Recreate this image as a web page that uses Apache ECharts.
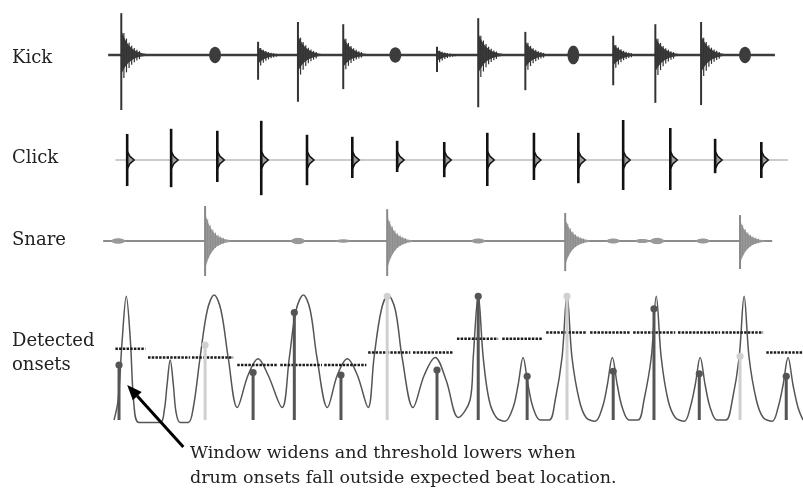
<!DOCTYPE html>
<html lang="en">
<head>
<meta charset="UTF-8">
<title>Drum onsets</title>
<script src="https://cdn.jsdelivr.net/npm/echarts@6/dist/echarts.min.js"></script>
<style>
  html, body { margin: 0; padding: 0; background: #fff; }
  #chart { width: 803px; height: 496px; }
</style>
</head>
<body>
<div id="chart"></div>
<script>
// time is in beats (the click track ticks once per beat)
// hits: [beat, amplitude up, amplitude down, kind] kind 0 = struck, 1 = soft/bleed
var kickHits = [
  [-0.13, 0.76, 1.00, 0], [1.94, 0.15, 0.15, 1], [2.89, 0.24, 0.45, 0],
  [3.77, 0.60, 0.85, 0], [4.77, 0.56, 0.62, 0], [5.92, 0.14, 0.14, 1],
  [6.84, 0.15, 0.31, 0], [7.75, 0.67, 0.95, 0], [8.79, 0.42, 0.64, 0],
  [9.85, 0.17, 0.17, 1], [10.73, 0.35, 0.55, 0], [11.66, 0.56, 0.87, 0],
  [12.67, 0.60, 0.91, 0], [13.64, 0.15, 0.15, 1]
];
var clickHits = [
  [0.00, 0.65, 0.65], [0.97, 0.78, 0.68], [1.99, 0.73, 0.55], [2.96, 0.98, 0.88],
  [3.97, 0.63, 0.63], [4.97, 0.58, 0.45], [5.96, 0.48, 0.30], [7.00, 0.45, 0.43],
  [7.95, 0.68, 0.65], [8.98, 0.68, 0.50], [9.96, 0.68, 0.58], [10.95, 1.00, 0.75],
  [11.99, 0.80, 0.75], [12.98, 0.53, 0.33], [14.00, 0.45, 0.45]
];
var snareHits = [
  [-0.20, 0.08, 0.08, 1], [1.72, 1.00, 1.00, 0], [3.77, 0.09, 0.09, 1],
  [4.77, 0.05, 0.05, 1], [5.74, 0.91, 1.00, 0], [7.75, 0.07, 0.07, 1],
  [9.67, 0.80, 0.86, 0], [10.73, 0.07, 0.07, 1], [11.37, 0.06, 0.06, 1],
  [11.70, 0.09, 0.09, 1], [12.71, 0.07, 0.07, 1], [13.53, 0.74, 0.80, 0]
];
var kickSpan = [-0.42, 14.30];
var clickSpan = [-0.26, 14.59];
var snareSpan = [-0.53, 14.24];

// onset detection function
var onsetCurve = [
  [-0.29, 0], [-0.20, 0.16], [-0.11, 0.64], [-0.02, 0.99], [0.07, 0.64], [0.15, 0.12], [0.26, -0.02],
  [0.73, -0.02], [0.82, 0.08], [0.88, 0.28], [0.95, 0.48], [1.02, 0.28], [1.08, 0.06], [1.17, -0.02],
  [1.35, -0.02], [1.46, 0.10], [1.61, 0.50], [1.77, 0.88], [1.92, 1.00], [2.07, 0.88], [2.23, 0.50], [2.43, 0.10],
  [2.67, 0.36], [2.89, 0.49], [3.11, 0.36], [3.42, 0.10],
  [3.58, 0.50], [3.73, 0.88], [3.89, 1.00], [4.04, 0.88], [4.19, 0.50], [4.42, 0.10],
  [4.64, 0.36], [4.86, 0.49], [5.08, 0.36], [5.32, 0.10],
  [5.45, 0.50], [5.61, 0.88], [5.76, 1.00], [5.92, 0.88], [6.07, 0.50], [6.31, 0.10],
  [6.56, 0.36], [6.80, 0.50], [7.04, 0.32], [7.31, 0.02],
  [7.57, 0.16], [7.64, 0.50], [7.75, 1.00], [7.86, 0.50], [7.99, 0.16], [8.15, 0.02], [8.34, -0.01],
  [8.52, 0.10], [8.63, 0.28], [8.74, 0.50], [8.85, 0.28], [8.96, 0.10], [9.12, 0], [9.32, 0],
  [9.45, 0.16], [9.60, 0.50], [9.71, 1.00], [9.82, 0.50], [9.98, 0.16], [10.13, 0.02], [10.33, -0.01],
  [10.49, 0.10], [10.60, 0.28], [10.71, 0.50], [10.82, 0.28], [10.93, 0.10], [11.08, 0], [11.28, 0],
  [11.41, 0.16], [11.57, 0.50], [11.68, 0.99], [11.79, 0.50], [11.94, 0.16], [12.10, 0.02], [12.30, -0.01],
  [12.43, 0.10], [12.54, 0.28], [12.65, 0.50], [12.76, 0.28], [12.87, 0.10], [13.02, 0], [13.22, 0],
  [13.36, 0.16], [13.51, 0.50], [13.62, 0.99], [13.73, 0.50], [13.89, 0.16], [14.04, 0.02], [14.24, -0.01],
  [14.37, 0.10], [14.48, 0.28], [14.59, 0.50], [14.70, 0.28], [14.81, 0.10], [14.92, 0]
];
// adaptive threshold per window: [from, to, level]
var thresholds = [
  [-0.26, 0.40, 0.57], [0.46, 1.39, 0.50], [1.43, 2.34, 0.50],
  [2.43, 3.33, 0.44], [3.38, 4.30, 0.44], [4.35, 5.28, 0.44],
  [5.32, 6.25, 0.54], [6.31, 7.20, 0.54], [7.28, 8.19, 0.65], [8.28, 9.18, 0.65],
  [9.25, 10.15, 0.70], [10.22, 11.10, 0.70], [11.17, 12.10, 0.70], [12.16, 13.09, 0.70],
  [13.13, 14.04, 0.70], [14.11, 14.92, 0.54]
];
// detected onsets: [beat, level]
var kickOnsets = [
  [-0.18, 0.44], [2.78, 0.38], [3.69, 0.86], [4.72, 0.36], [6.84, 0.40], [7.75, 0.99],
  [8.83, 0.35], [10.73, 0.39], [11.63, 0.89], [12.63, 0.37], [14.55, 0.35]
];
var snareOnsets = [[1.72, 0.60], [5.74, 0.99], [9.71, 0.99], [13.53, 0.51]];
var arrowLine = [[1.24, -0.216, 0.0, 0.28]];

var rowLabels = [
  ['Kick', 58], ['Click', 158], ['Snare', 240], ['Detected', 341], ['onsets', 365]
];
var noteLines = ['Window widens and threshold lowers when',
                 'drum onsets fall outside expected beat location.'];

var serif = '"DejaVu Serif", "Liberation Serif", serif';

function drumRenderer(st) {
  return function (params, api) {
    var t = api.value(0), up = api.value(1), dn = api.value(2), kind = api.value(3);
    var p = api.coord([t, 0]);
    var sz = api.size([1, 1]);
    var bx = sz[0], ay = sz[1];
    var kids = [], i, a;
    if (kind === 1) {
      var w = st.blob * bx, pts = [];
      for (i = 0; i <= 16; i++) {
        a = Math.PI * i / 16;
        pts.push([p[0] - w * Math.cos(a), p[1] - up * ay * Math.sin(a)]);
      }
      for (i = 0; i <= 16; i++) {
        a = Math.PI * i / 16;
        pts.push([p[0] + w * Math.cos(a), p[1] + dn * ay * Math.sin(a)]);
      }
      kids.push({ type: 'polygon', shape: { points: pts }, style: { fill: st.fill } });
      return { type: 'group', children: kids };
    }
    var L = st.decay * bx, top = [], bot = [];
    for (i = 0; i <= 16; i++) {
      var f = i / 16, k = Math.exp(-3.4 * f);
      top.push([p[0] + f * L, p[1] - up * ay * st.envUp * k]);
      bot.push([p[0] + f * L, p[1] + dn * ay * st.envDn * k]);
    }
    kids.push({ type: 'polygon', shape: { points: top.concat(bot.reverse()) }, style: { fill: st.fill } });
    for (i = 1; i <= 7; i++) {
      var x = p[0] + i * 2.6;
      var r = Math.exp(-3.0 * i * 2.6 / L) * st.ridge;
      kids.push({ type: 'line', shape: { x1: x, y1: p[1] - up * ay * r, x2: x, y2: p[1] + dn * ay * r * 0.8 },
        style: { stroke: st.stroke, lineWidth: st.ridgeW } });
    }
    kids.push({ type: 'line', shape: { x1: p[0], y1: p[1] - up * ay, x2: p[0], y2: p[1] + dn * ay },
      style: { stroke: st.stroke, lineWidth: 2 } });
    return { type: 'group', children: kids };
  };
}

function renderClick(params, api) {
  var p = api.coord([api.value(0), 0]);
  var ay = api.size([1, 1])[1];
  var up = api.value(1), dn = api.value(2);
  var h = 9;
  return { type: 'group', children: [
    { type: 'polygon', shape: { points: [[p[0], p[1] - h], [p[0] + 2.5, p[1] - h * 0.45], [p[0] + 7, p[1]],
      [p[0] + 2.5, p[1] + h * 0.45], [p[0], p[1] + h]] }, style: { fill: '#9a9a9a', stroke: '#111', lineWidth: 1.5 } },
    { type: 'line', shape: { x1: p[0], y1: p[1] - up * ay, x2: p[0], y2: p[1] + dn * ay },
      style: { stroke: '#111', lineWidth: 2.6 } }
  ] };
}

function renderThreshold(params, api) {
  var a = api.coord([api.value(0), api.value(2)]);
  var b = api.coord([api.value(1), api.value(2)]);
  return { type: 'line', shape: { x1: a[0], y1: a[1], x2: b[0], y2: b[1] },
    style: { stroke: '#1c1c1c', lineWidth: 2.4, lineDash: [2.5, 1.2] } };
}

function stemRenderer(color) {
  return function (params, api) {
    var b = api.coord([api.value(0), 0]);
    var tp = api.coord([api.value(0), api.value(1)]);
    return { type: 'group', children: [
      { type: 'line', shape: { x1: b[0], y1: b[1], x2: tp[0], y2: tp[1] }, style: { stroke: color, lineWidth: 3 } },
      { type: 'circle', shape: { cx: tp[0], cy: tp[1], r: 3.6 }, style: { fill: color } }
    ] };
  };
}

function renderArrow(params, api) {
  var a = api.coord([api.value(0), api.value(1)]);
  var b = api.coord([api.value(2), api.value(3)]);
  var ang = Math.atan2(b[1] - a[1], b[0] - a[0]);
  var len = 15, half = 6;
  var base = [b[0] - len * Math.cos(ang), b[1] - len * Math.sin(ang)];
  var nx = -Math.sin(ang) * half, ny = Math.cos(ang) * half;
  return { type: 'group', children: [
    { type: 'line', shape: { x1: a[0], y1: a[1], x2: base[0], y2: base[1] }, style: { stroke: '#000', lineWidth: 3 } },
    { type: 'polygon', shape: { points: [[b[0], b[1]], [base[0] + nx, base[1] + ny], [base[0] - nx, base[1] - ny]] },
      style: { fill: '#000' } }
  ] };
}

var grids = [
  { left: 100, right: 0, top: 0, height: 110 },
  { left: 100, right: 0, top: 120, height: 80 },
  { left: 100, right: 0, top: 206, height: 70 },
  { left: 100, right: 0, top: 295, height: 162.5 }
];
var yRanges = [[-1, 1], [-1, 1], [-1, 1], [-0.3, 1]];

var xAxes = [], yAxes = [];
for (var g = 0; g < grids.length; g++) {
  xAxes.push({ type: 'value', gridIndex: g, min: -0.6, max: 14.92, show: false });
  yAxes.push({ type: 'value', gridIndex: g, min: yRanges[g][0], max: yRanges[g][1], show: false });
}

function baseline(idx, span, color, width) {
  return { type: 'line', xAxisIndex: idx, yAxisIndex: idx, data: [[span[0], 0], [span[1], 0]],
    showSymbol: false, silent: true, lineStyle: { color: color, width: width }, z: 1 };
}

var graphics = [];
rowLabels.forEach(function (r) {
  graphics.push({ type: 'text', x: 12, y: r[1],
    style: { text: r[0], font: '18px ' + serif, fill: '#222', verticalAlign: 'middle' } });
});
noteLines.forEach(function (s, i) {
  graphics.push({ type: 'text', x: 190, y: 453 + i * 25,
    style: { text: s, font: '17.5px ' + serif, fill: '#222', verticalAlign: 'middle' } });
});

var chart = echarts.init(document.getElementById('chart'));
chart.setOption({
  animation: false,
  backgroundColor: '#fff',
  grid: grids,
  xAxis: xAxes,
  yAxis: yAxes,
  graphic: graphics,
  series: [
    baseline(0, kickSpan, '#3c3c3c', 2.4),
    { type: 'custom', xAxisIndex: 0, yAxisIndex: 0, data: kickHits, encode: { x: 0, y: 1 },
      renderItem: drumRenderer({ fill: '#3c3c3c', stroke: '#333', envUp: 0.6, envDn: 0.35, ridge: 0.7, ridgeW: 1.2, decay: 0.6, blob: 0.13 }), z: 2 },
    baseline(1, clickSpan, '#999', 1.2),
    { type: 'custom', xAxisIndex: 1, yAxisIndex: 1, data: clickHits, encode: { x: 0, y: 1 }, renderItem: renderClick, z: 2 },
    baseline(2, snareSpan, '#8c8c8c', 2),
    { type: 'custom', xAxisIndex: 2, yAxisIndex: 2, data: snareHits, encode: { x: 0, y: 1 },
      renderItem: drumRenderer({ fill: '#999', stroke: '#888', envUp: 0.8, envDn: 0.8, ridge: 0.85, ridgeW: 0.8, decay: 0.55, blob: 0.15 }), z: 2 },
    { type: 'line', xAxisIndex: 3, yAxisIndex: 3, data: onsetCurve, smooth: 0.35, showSymbol: false, silent: true,
      lineStyle: { color: '#555', width: 1.5 }, z: 2 },
    { type: 'custom', xAxisIndex: 3, yAxisIndex: 3, data: thresholds, encode: { x: [0, 1], y: 2 }, renderItem: renderThreshold, z: 3 },
    { type: 'custom', xAxisIndex: 3, yAxisIndex: 3, data: snareOnsets, encode: { x: 0, y: 1 }, renderItem: stemRenderer('#d0d0d0'), z: 4 },
    { type: 'custom', xAxisIndex: 3, yAxisIndex: 3, data: kickOnsets, encode: { x: 0, y: 1 }, renderItem: stemRenderer('#555'), z: 5 },
    { type: 'custom', xAxisIndex: 3, yAxisIndex: 3, data: arrowLine, encode: { x: [0, 2], y: [1, 3] }, renderItem: renderArrow, z: 6 }
  ]
});
</script>
</body>
</html>
